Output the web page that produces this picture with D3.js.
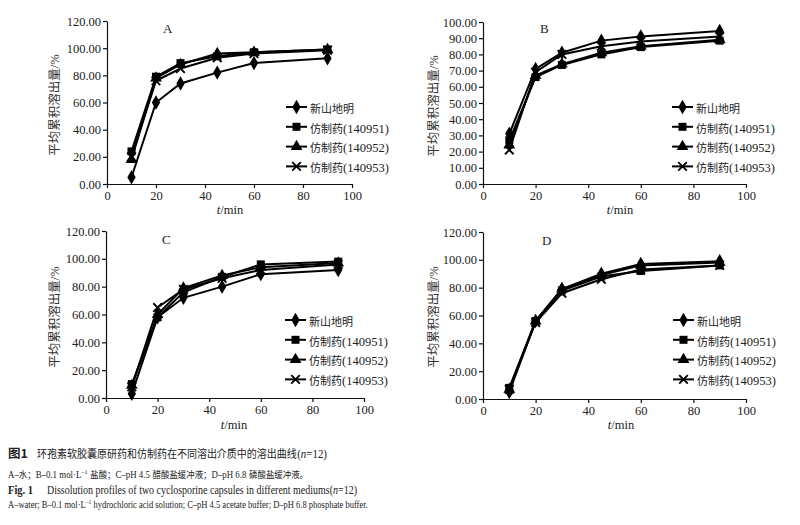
<!DOCTYPE html>
<html><head><meta charset="utf-8">
<script src="https://cdn.jsdelivr.net/npm/d3@7"></script>
<style>body{margin:0;background:#fff}svg{display:block}</style>
</head><body><svg id="c" width="800" height="525"></svg>
<script>
// ---- data ----
const times = [10, 20, 30, 45, 60, 90];
const seriesNames = ["新山地明", "仿制药(140951)", "仿制药(140952)", "仿制药(140953)"];
const panelLabels = ["A", "B", "C", "D"];
const xTicks = [0, 20, 40, 60, 80, 100];
const yTicks120 = [0, 20, 40, 60, 80, 100, 120];
const yTicks100 = [0, 10, 20, 30, 40, 50, 60, 70, 80, 90, 100];

const A_ref   = [5, 60, 74, 82, 89, 92.5];
const A_51    = [24, 79, 89, 94, 97, 99];
const A_52    = [18, 78, 88, 96, 97, 99];
const A_53    = [20, 76, 85, 93, 96, 98.5];

const B_ref   = [31, 71, 81, 88.5, 91, 94.5];
const B_51    = [27, 66, 73.5, 80, 84.5, 88.5];
const B_52    = [24, 67, 74, 81, 85, 89];
const B_53    = [21, 69, 80, 85, 88, 91];

const C_ref   = [3, 58, 72, 80, 89, 92];
const C_51    = [10, 58, 76, 87, 96, 98];
const C_52    = [9, 60, 79, 88, 94, 97];
const C_53    = [8, 65, 78, 86, 92, 96];

const D_ref   = [5, 56, 79, 90, 97, 99];
const D_51    = [8, 56, 78, 88, 92, 96];
const D_52    = [7, 56, 79, 89, 96, 98];
const D_53    = [7, 55, 76, 86, 93, 96];

const captionCN = "环孢素软胶囊原研药和仿制药在不同溶出介质中的溶出曲线";
const captionEN = "Dissolution profiles of two cyclosporine capsules in different mediums";

// ---- layout ----
const layout = [
  {x0:107, x1:352, y0:184, yT:21,  ymax:120, yt:yTicks120, lx:286, ly:107, ylx:53, yly:105, letX:163, letY:33, tx:230, ty:214},
  {x0:483, x1:746, y0:184, yT:22,  ymax:100, yt:yTicks100, lx:672, ly:107, ylx:432, yly:106, letX:540, letY:33, tx:620, ty:214},
  {x0:106, x1:364, y0:398, yT:231, ymax:120, yt:yTicks120, lx:285, ly:320, ylx:53, yly:317, letX:162, letY:244, tx:234, ty:429},
  {x0:483, x1:746, y0:399, yT:232, ymax:120, yt:yTicks120, lx:673, ly:320, ylx:432, yly:317, letX:542, letY:245, tx:621, ty:429}
];
const panelData = [
  [A_ref, A_51, A_52, A_53],
  [B_ref, B_51, B_52, B_53],
  [C_ref, C_51, C_52, C_53],
  [D_ref, D_51, D_52, D_53]
];
const symbols = [d3.symbolDiamond, d3.symbolSquare, d3.symbolTriangle, d3.symbolX];
const symSizes = [60, 64, 60, 50];

const svg = d3.select("#c");
const serif = "'Liberation Serif','Times New Roman',serif";
const cjk = "'Noto Sans CJK SC','Liberation Serif',serif";

function drawMarker(g, i, x, y) {
  const p = g.append("path")
    .attr("d", d3.symbol().type(symbols[i]).size(symSizes[i])())
    .attr("transform", `translate(${x},${y})`);
  if (i === 3) p.attr("fill", "none").attr("stroke", "#000").attr("stroke-width", 1.9);
  else p.attr("fill", "#000");
}

layout.forEach((L, pi) => {
  const g = svg.append("g");
  const x = d3.scaleLinear().domain([0, 100]).range([L.x0, L.x1]);
  const y = d3.scaleLinear().domain([0, L.ymax]).range([L.y0, L.yT]);

  const ya = g.append("g").attr("transform", `translate(${L.x0},0)`)
    .call(d3.axisLeft(y).tickValues(L.yt).tickFormat(d3.format(".2f")).tickSize(4).tickSizeOuter(0).tickPadding(2));
  const xa = g.append("g").attr("transform", `translate(0,${L.y0})`)
    .call(d3.axisBottom(x).tickValues(xTicks).tickFormat(d3.format("d")).tickSize(4).tickSizeOuter(0).tickPadding(3));
  [ya, xa].forEach(a => {
    a.selectAll("path,line").attr("stroke", "#111").attr("stroke-width", 1.2);
    a.selectAll("text").attr("font-family", serif).attr("font-size", 12.5).attr("fill", "#222");
  });

  // y label
  const yl = g.append("text").attr("transform", `translate(${L.ylx},${L.yly}) rotate(-90)`)
    .attr("text-anchor", "middle").attr("dy", "0.35em").attr("fill", "#333");
  yl.append("tspan").attr("font-family", cjk).attr("font-size", 12.5).text("平均累积溶出量");
  yl.append("tspan").attr("font-family", serif).attr("font-size", 12.5).text("/%");

  // x label
  const xl = g.append("text").attr("x", L.tx).attr("y", L.ty).attr("text-anchor", "middle")
    .attr("font-family", serif).attr("font-size", 12.5).attr("fill", "#222");
  xl.append("tspan").attr("font-style", "italic").text("t");
  xl.append("tspan").text("/min");

  // panel letter
  g.append("text").attr("x", L.letX).attr("y", L.letY).attr("font-family", serif)
    .attr("font-size", 13).attr("fill", "#222").text(panelLabels[pi]);

  // lines and markers
  const line = d3.line().x((d, i) => x(times[i])).y(d => y(d));
  panelData[pi].forEach((vals, si) => {
    g.append("path").attr("d", line(vals)).attr("fill", "none")
      .attr("stroke", "#000").attr("stroke-width", 2);
    vals.forEach((v, i) => drawMarker(g, si, x(times[i]), y(v)));
  });

  // legend
  seriesNames.forEach((name, si) => {
    const ry = L.ly + si * 19.8;
    g.append("line").attr("x1", L.lx).attr("x2", L.lx + 21).attr("y1", ry).attr("y2", ry)
      .attr("stroke", "#000").attr("stroke-width", 2);
    drawMarker(g, si, L.lx + 10.5, ry);
    const t = g.append("text").attr("x", L.lx + 24).attr("y", ry).attr("dy", "0.36em").attr("fill", "#222");
    const m = name.match(/^([^(]+)(\(.*\))?$/);
    t.append("tspan").attr("font-family", cjk).attr("font-size", 11).text(m[1]);
    if (m[2]) t.append("tspan").attr("font-family", serif).attr("font-size", 12.5).text(m[2]);
  });
});

// ---- captions: separate text pieces laid out side by side, then scaled to the target width ----
function captionLine(x, yb, targetW, baseSize, parts) {
  const g = svg.append("g");
  let cx = 0;
  parts.forEach(p => {
    if (p.gap) { cx += p.gap; return; }
    const t = g.append("text").attr("x", cx).attr("y", p.sup ? -4 : 0).attr("fill", "#222")
      .attr("font-family", p.f || serif).attr("font-size", p.s || baseSize).text(p.t);
    if (p.i) t.attr("font-style", "italic");
    if (p.b) t.attr("font-weight", "bold");
    cx += t.node().getComputedTextLength();
  });
  const k = targetW ? targetW / cx : 1;
  g.attr("transform", `translate(${x},${yb}) scale(${k},1)`);
}

captionLine(8, 458, 20, 12, [{t:"图1", f:cjk, b:1}]);
captionLine(37, 458, 290, 12, [{t:captionCN, f:cjk, s:11}, {t:"("}, {t:"n", i:1}, {t:"=12)"}]);

captionLine(8, 478, 300, 10, [
  {t:"A–"}, {t:"水；", f:cjk, s:9.5}, {t:"B–0.1 mol·L"}, {t:"–1", s:7, sup:1}, {gap:3},
  {t:"盐酸；", f:cjk, s:9.5}, {t:"C–pH 4.5"}, {gap:3}, {t:"醋酸盐缓冲液；", f:cjk, s:9.5},
  {t:"D–pH 6.8"}, {gap:3}, {t:"磷酸盐缓冲液。", f:cjk, s:9.5}
]);

captionLine(8, 494, 25, 13, [{t:"Fig. 1", b:1}]);
captionLine(47, 494, 310, 13, [{t:captionEN}, {t:"("}, {t:"n", i:1}, {t:"=12)"}]);

captionLine(8, 508, 360, 10.5, [
  {t:"A–water; B–0.1 mol·L"}, {t:"–1", s:7, sup:1}, {gap:2.5},
  {t:"hydrochloric acid solution; C–pH 4.5 acetate buffer; D–pH 6.8 phosphate buffer."}
]);
</script></body></html>
